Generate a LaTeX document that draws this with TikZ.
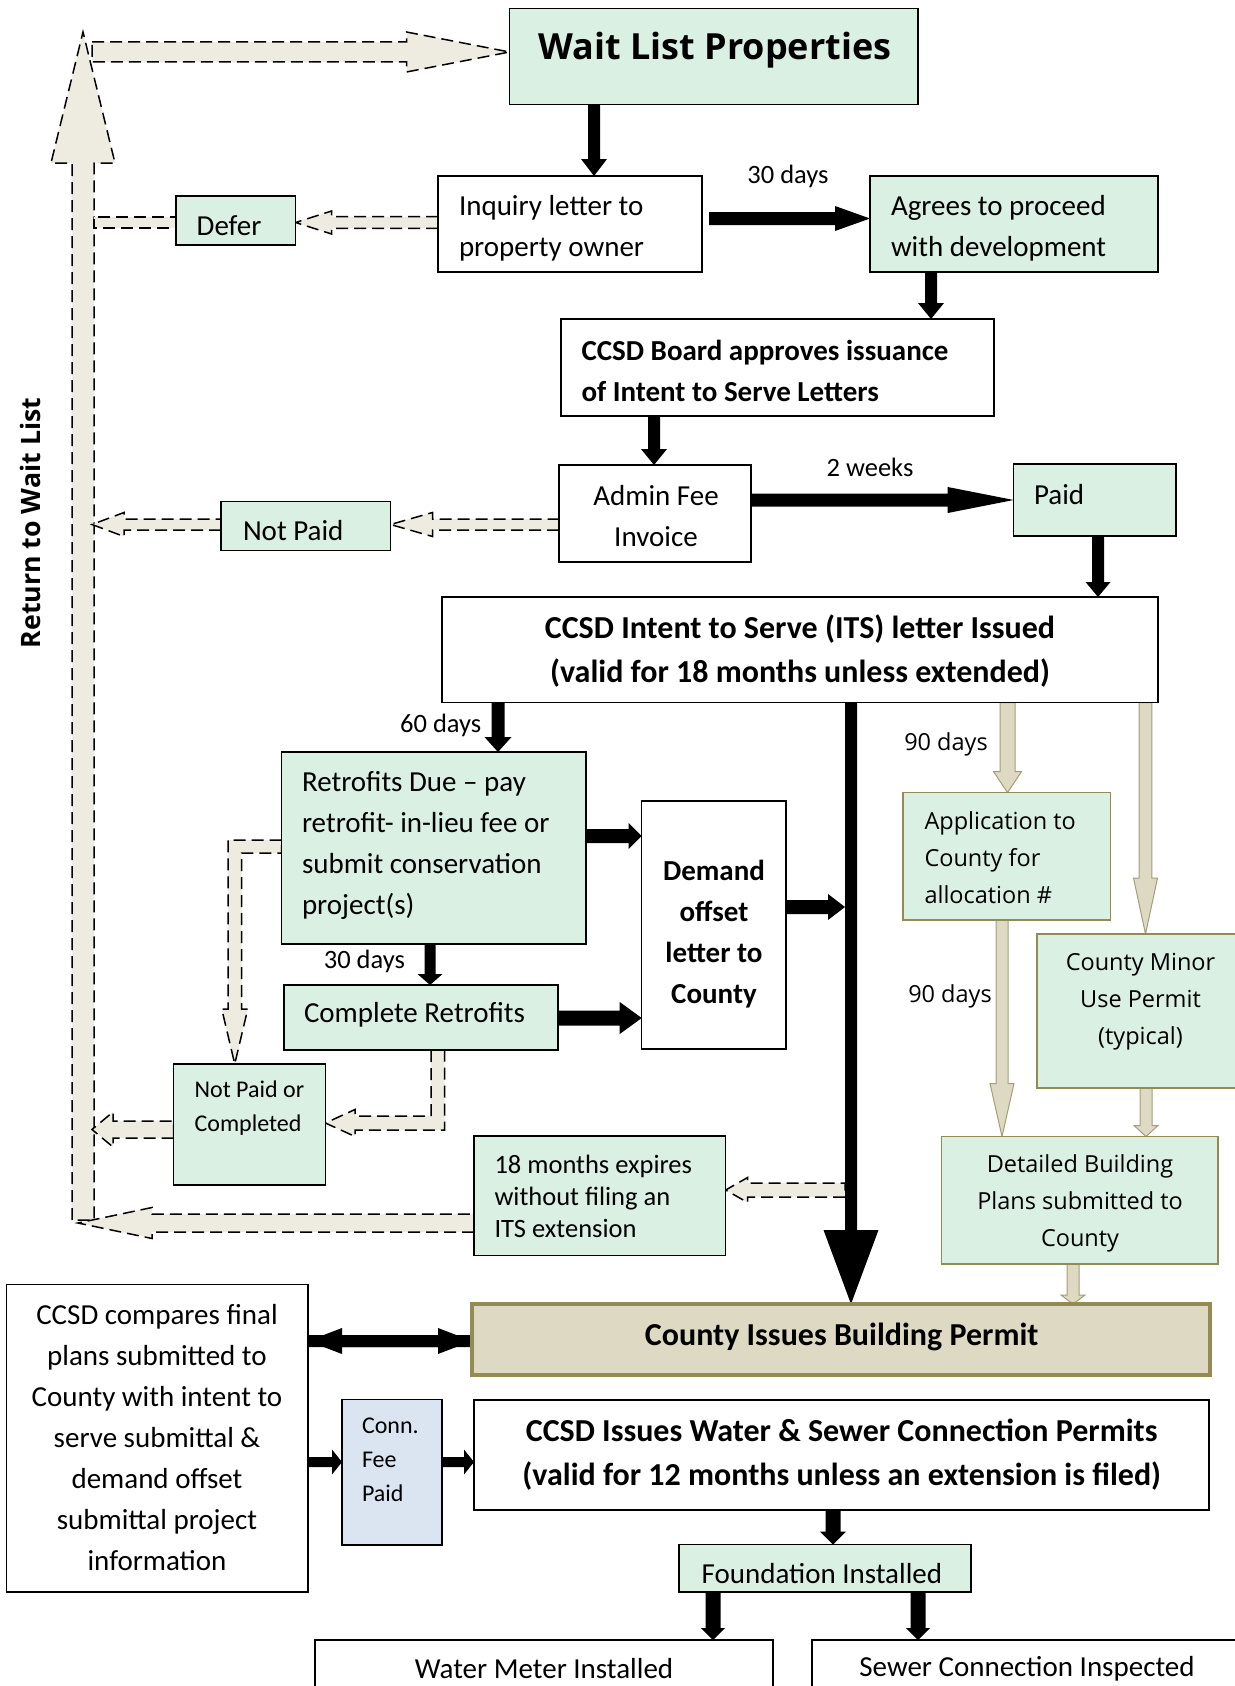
\documentclass[tikz,border=0pt]{standalone}
\usepackage{fontspec}
\setmainfont{Carlito}
\newfontfamily\osans{Open Sans}
\usetikzlibrary{calc,backgrounds}
\definecolor{mint}{RGB}{218,240,227}
\definecolor{tanf}{RGB}{221,217,195}
\definecolor{olive}{RGB}{148,138,84}
\definecolor{lightf}{RGB}{238,236,225}
\definecolor{bluef}{RGB}{219,229,241}
\definecolor{tanline}{RGB}{165,158,120}
% block arrow: [style]{start}{tip}{shaft half width}{head half width}{head length}
\newcommand\barrow[6][]{%
  \coordinate (ba-s) at #2;
  \coordinate (ba-t) at #3;
  \coordinate (ba-h) at ($(ba-t)!#6!(ba-s)$);
  \path[#1] ($(ba-s)!#4!90:(ba-t)$) -- ($(ba-h)!#4!90:(ba-t)$) -- ($(ba-h)!#5!90:(ba-t)$) -- (ba-t)
     -- ($(ba-h)!#5!-90:(ba-t)$) -- ($(ba-h)!#4!-90:(ba-t)$) -- ($(ba-s)!#4!-90:(ba-t)$) -- cycle;
}
% box: [style]{name}{x1}{y1}{x2}{y2}
\newcommand\bx[6][]{\node[boxbase,#1,minimum width={(#5)-(#3)},minimum height={(#6)-(#4)}] (#2) at ({((#3)+(#5))/2},{((#4)+(#6))/2}) {};}
\begin{document}
\begin{tikzpicture}[x=1pt,y=-1pt,
  boxbase/.style={rectangle, draw=black, line width=1.5pt, fill=white, inner sep=0pt, outer sep=0pt},
  mintb/.style={fill=mint},
  txtn/.style={inner sep=0pt, outer sep=0pt},
  f29/.style={font=\fontsize{29}{41}\selectfont},
  b29/.style={font=\bfseries\fontsize{29}{41}\selectfont},
  b32/.style={font=\bfseries\fontsize{32}{44}\selectfont},
  f26/.style={font=\fontsize{26.5}{32}\selectfont},
  f24/.style={font=\fontsize{24}{34}\selectfont},
  ostxt/.style={font=\osans\fontsize{23.5}{37}\selectfont},
  dashar/.style={draw=black, line width=1.5pt, dash pattern=on 12pt off 6pt, fill=lightf},
  tanar/.style={draw=tanline, line width=1pt, fill=tanf},
  blkar/.style={fill=black}]
\useasboundingbox (0,0) rectangle (1234,1686);

% ---------- boxes ----------
\bx[mintb]{wait}{509.5}{8.6}{918}{104.3}
\bx{inq}{438}{176}{702}{272}
\bx[mintb]{agr}{870}{176}{1158}{272}
\bx{brd}{561}{319}{994}{416}
\bx{adm}{559}{465}{751}{562}
\bx[mintb]{paid}{1013.7}{464}{1176}{536}
\bx{its}{442}{597}{1158}{702.5}
\bx[mintb]{ret}{281.6}{752}{585.8}{944}
\bx{dem}{641.7}{801}{785.8}{1049}
\bx[mintb]{cmp}{283.8}{985}{558}{1050}
\bx[mintb]{npc}{173.7}{1064}{325.4}{1185}
\bx[mintb]{mo18}{474}{1136}{725.6}{1255.5}
\bx[mintb,draw=olive]{app}{903}{792.6}{1110.7}{920}
\bx[mintb,draw=olive]{cmu}{1037}{934}{1240}{1088}
\bx[mintb,draw=olive]{det}{941.7}{1136.5}{1218}{1264}
\bx[fill=tanf,draw=olive,line width=4pt]{cib}{472}{1304}{1210}{1375}
\bx{cmpr}{6.5}{1284.5}{308}{1592}
\bx[fill=bluef]{conn}{342}{1399.5}{442}{1545}
\bx{cis}{474}{1400}{1209}{1510}
\bx[mintb,path picture={\node[txtn,f29] (fnd-t) at ([xshift=-3pt,yshift=-5pt]path picture bounding box.center) {Foundation Installed};}]{fnd}{679}{1544.5}{970.8}{1592}
\bx{wm}{315}{1640}{773}{1700}
\bx{sw}{812}{1640}{1240}{1700}
\bx[mintb]{defer}{176}{196}{295.6}{245}
\bx[mintb]{np}{221}{501.7}{390.5}{550.7}

% ---------- connectors ----------
\begin{scope}[on background layer]
\fill[white] (0,0) rectangle (1234,1686);
% return-to-wait-list arrows
\coordinate (rv-bot) at (83,1220);
\coordinate (rv-top) at (83,32);
\barrow[dashar]{(rv-bot)}{(rv-top)}{11pt}{32pt}{131pt}
\coordinate (top-start) at (92,52);
\barrow[dashar]{(top-start)}{(wait.west |- top-start)}{10pt}{20pt}{103pt}
\barrow[dashar]{(inq.west |- 0,222.5)}{(defer.east |- 0,222.5)}{5.8pt}{11.5pt}{36pt}
\coordinate (rv-defer) at (94,228);
\path[dashar] (defer.west |- 0,217) rectangle (rv-defer);
\barrow[dashar]{(adm.west |- 0,524.5)}{(np.east |- 0,524.5)}{5.5pt}{12pt}{42pt}
\coordinate (rv-np) at (92,524.5);
\barrow[dashar]{(np.west |- rv-np)}{(rv-np)}{5.5pt}{12pt}{32pt}
\path[dashar] (ret.west |- 0,840) -- (228,840) -- (228,1009) -- (221.75,1009) -- (234.75,0 |- npc.north)
   -- (247.75,1009) -- (241.5,1009) -- (241.5,853) -- (ret.west |- 0,853) -- cycle;
\path[dashar] (431,0 |- cmp.south) -- (431,1116) -- (355,1116) -- (355,1109.5) -- (npc.east |- 0,1123)
   -- (355,1136.5) -- (355,1130) -- (444.6,1130) -- (444.6,0 |- cmp.south) -- cycle;
\coordinate (rv-npc) at (92,1129.5);
\barrow[dashar]{(npc.west |- rv-npc)}{(rv-npc)}{8.5pt}{17.5pt}{21pt}
\coordinate (rv-mo) at (78,1223);
\barrow[dashar]{(mo18.west |- rv-mo)}{(rv-mo)}{9pt}{15.5pt}{74pt}
\coordinate (big-mo) at (845,1190);
\barrow[dashar]{(big-mo)}{(mo18.east |- big-mo)}{7pt}{12.5pt}{22pt}
% tan arrows
\barrow[tanar]{(1007.5,0 |- its.south)}{(1007.5,0 |- app.north)}{7.5pt}{14pt}{21pt}
\barrow[tanar]{(1145.5,0 |- its.south)}{(1145.5,0 |- cmu.north)}{6.3pt}{12pt}{56pt}
\barrow[tanar]{(1002,0 |- app.south)}{(1002,0 |- det.north)}{6pt}{12pt}{53pt}
\barrow[tanar]{(1146,0 |- cmu.south)}{(1146,0 |- det.north)}{6pt}{12pt}{11pt}
\barrow[tanar]{(1073,0 |- det.south)}{(1073,0 |- cib.north)}{6pt}{12pt}{9pt}
% black arrows
\barrow[blkar]{(594,0 |- wait.south)}{(594,0 |- inq.north)}{6pt}{13pt}{17pt}
\barrow[blkar]{($(inq.east)+(7,-5.5)$)}{(agr.west |- 0,218.5)}{6.5pt}{12.5pt}{35pt}
\barrow[blkar]{(931,0 |- agr.south)}{(931,0 |- brd.north)}{6pt}{13pt}{16pt}
\barrow[blkar]{(654,0 |- brd.south)}{(654,0 |- adm.north)}{6pt}{13pt}{16pt}
\barrow[blkar]{(adm.east |- 0,500)}{(paid.west |- 0,500)}{6.5pt}{13pt}{66pt}
\barrow[blkar]{(1098,0 |- paid.south)}{(1098,0 |- its.north)}{6pt}{12.5pt}{15pt}
\barrow[blkar]{(498,0 |- its.south)}{(498,0 |- ret.north)}{6.5pt}{13.5pt}{15pt}
\barrow[blkar]{(851,0 |- its.south)}{(851,0 |- cib.north)}{6pt}{27.5pt}{74pt}
\barrow[blkar]{(ret.east |- 0,836)}{(dem.west |- 0,836)}{7pt}{13pt}{13pt}
\barrow[blkar]{(cmp.east |- 0,1018)}{(dem.west |- 0,1018)}{7.5pt}{16pt}{22pt}
\coordinate (big-dem) at (845,907);
\barrow[blkar]{(dem.east |- big-dem)}{(big-dem)}{7pt}{13pt}{17pt}
\barrow[blkar]{(430,0 |- ret.south)}{(430,0 |- cmp.north)}{5.5pt}{12.5pt}{11pt}
\barrow[blkar]{(cmpr.east |- 0,1341)}{(cib.west |- 0,1341)}{6pt}{13pt}{34pt}
\barrow[blkar]{(cib.west |- 0,1341)}{(cmpr.east |- 0,1341)}{6pt}{13pt}{34pt}
\barrow[blkar]{(cmpr.east |- 0,1462)}{(conn.west |- 0,1462)}{5pt}{12.5pt}{10pt}
\barrow[blkar]{(conn.east |- 0,1462)}{(cis.west |- 0,1462)}{5pt}{12.5pt}{10pt}
\barrow[blkar]{(833,0 |- cis.south)}{(833,0 |- fnd.north)}{7.5pt}{13pt}{13pt}
\barrow[blkar]{(713,0 |- fnd.south)}{(713,0 |- wm.north)}{7.5pt}{12pt}{12pt}
\barrow[blkar]{(918,0 |- fnd.south)}{(918,0 |- sw.north)}{7.5pt}{12pt}{12pt}
\end{scope}

% ---------- texts ----------
\node[txtn,font=\osans\bfseries\fontsize{36}{40}\selectfont] (wait-t) at (715,50) {Wait List Properties};
\node[txtn,f29,anchor=west] (defer-t) at (196.7,226) {Defer};
\node[txtn,f29,anchor=west] (np-t) at (243,531) {Not Paid};
\node[txtn,f29,anchor=west,align=left] (inq-t) at (459,228) {Inquiry letter to\\property owner};
\node[txtn,f29,anchor=west,align=left] (agr-t) at (891,228) {Agrees to proceed\\with development};
\node[txtn,b29,anchor=west,align=left] (brd-t) at (581.5,371) {CCSD Board approves issuance\\of Intent to Serve Letters};
\node[txtn,f29,align=center] (adm-t) at (656,516) {Admin Fee\\Invoice};
\node[txtn,f29,anchor=west] (paid-t) at (1034,495) {Paid};
\node[txtn,b32,align=center] (its-t) at (800,651) {CCSD Intent to Serve (ITS) letter Issued\\(valid for 18 months unless extended)};
\node[txtn,f29,anchor=west,align=left] (ret-t) at (302,845) {Retrofits Due – pay\\retrofit- in-lieu fee or\\submit conservation\\project(s)};
\node[txtn,b29,align=center] (dem-t) at (714,934) {Demand\\offset\\letter to\\County};
\node[txtn,f29,anchor=west] (cmp-t) at (304,1015) {Complete Retrofits};
\node[txtn,f24,anchor=west,align=left] (npc-t) at (194.6,1108) {Not Paid or\\Completed};
\node[txtn,f26,anchor=west,align=left] (mo18-t) at (494.5,1196) {18 months expires\\without filing an\\ITS extension};
\node[txtn,ostxt,anchor=west,align=left] (app-t) at (924.5,858) {Application to\\County for\\allocation \#};
\node[txtn,ostxt,align=center] (cmu-t) at (1140.5,1002) {County Minor\\Use Permit\\(typical)};
\node[txtn,ostxt,align=center] (det-t) at (1080,1203) {Detailed Building\\Plans submitted to\\County};
\node[txtn,b32] (cib-t) at (841.7,1337) {County Issues Building Permit};
\node[txtn,f29,align=center] (cmpr-t) at (157,1438) {CCSD compares final\\plans submitted to\\County with intent to\\serve submittal \&\\demand offset\\submittal project\\information};
\node[txtn,f24,anchor=west,align=left] (conn-t) at (362,1460) {Conn.\\Fee\\Paid};
\node[txtn,b32,align=center] (cis-t) at (841.7,1455) {CCSD Issues Water \& Sewer Connection Permits\\(valid for 12 months unless an extension is filed)};
\node[txtn,f29] (wm-t) at (544,1669) {Water Meter Installed};
\node[txtn,f29] (sw-t) at (1027,1669) {Sewer Connection Inspected};
\node[txtn,font=\osans\bfseries\fontsize{26.7}{30}\selectfont,rotate=90] (rwl-t) at (30,523) {Return to Wait List};
\node[txtn,f26] (l30a) at (788,176) {30 days};
\node[txtn,f26] (l2w) at (870,467) {2 weeks};
\node[txtn,f26] (l60) at (440.7,725.5) {60 days};
\node[txtn,f26] (l30b) at (364.4,961) {30 days};
\node[txtn,ostxt] (l90a) at (946,744) {90 days};
\node[txtn,ostxt] (l90b) at (950,996) {90 days};
\end{tikzpicture}
\end{document}
